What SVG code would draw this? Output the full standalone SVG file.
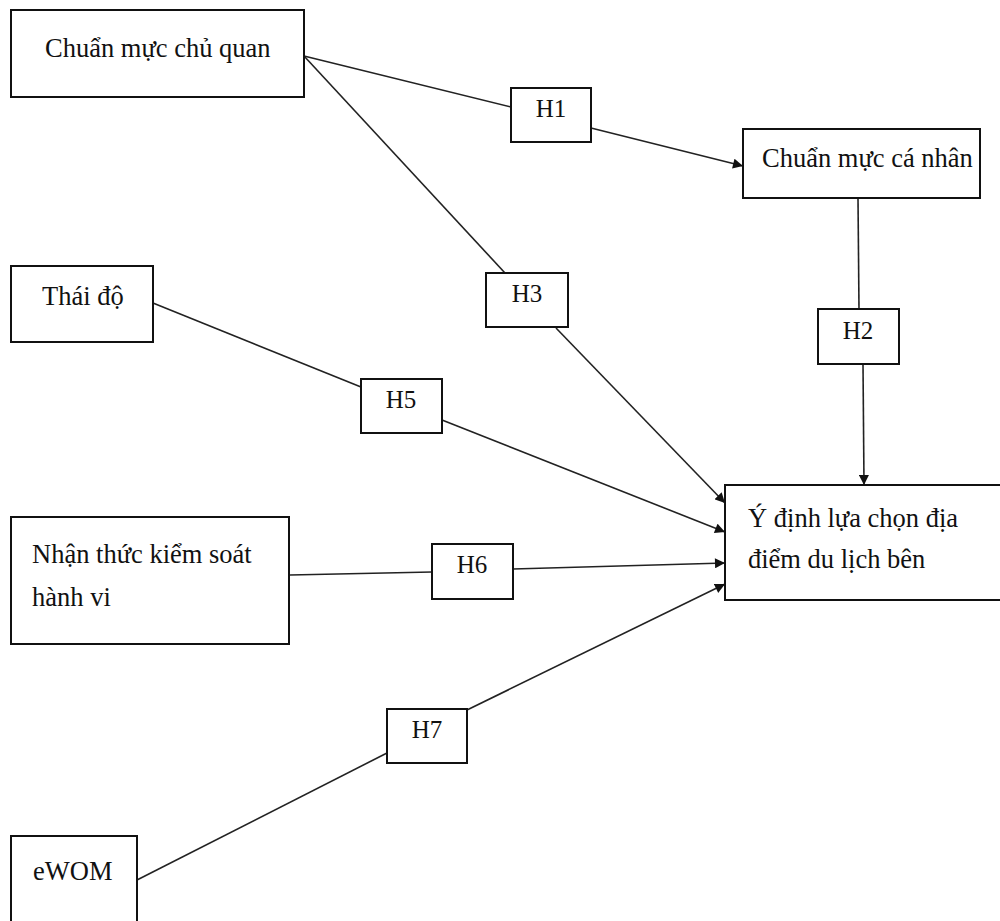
<svg xmlns="http://www.w3.org/2000/svg" width="1000" height="921" viewBox="0 0 1000 921">
<defs>
<marker id="arr" viewBox="0 0 10 10" refX="10" refY="5" markerWidth="11" markerHeight="10" markerUnits="userSpaceOnUse" orient="auto">
<path d="M0,0 L10,5 L0,10 z" fill="#111"/>
</marker>
<style>
.box{fill:#fff;stroke:#111;stroke-width:2}
.t{font-family:"Liberation Serif","Times New Roman",serif;font-size:26.5px;fill:#111}
.h{font-size:25px}
.c{text-anchor:middle}
.ln{stroke:#222;stroke-width:1.6;fill:none}
</style>
</defs>
<rect width="1000" height="921" fill="#fff"/>
<g id="connectors">
<line class="ln" x1="304" y1="56" x2="511" y2="107"/>
<line class="ln" x1="591" y1="128" x2="743" y2="166" marker-end="url(#arr)"/>
<line class="ln" x1="304" y1="56" x2="505" y2="273"/>
<line class="ln" x1="556" y1="328" x2="725" y2="503" marker-end="url(#arr)"/>
<line class="ln" x1="858" y1="198" x2="859" y2="309"/>
<line class="ln" x1="863" y1="364" x2="864" y2="485" marker-end="url(#arr)"/>
<line class="ln" x1="148" y1="301" x2="361" y2="387"/>
<line class="ln" x1="442" y1="420" x2="725" y2="532" marker-end="url(#arr)"/>
<line class="ln" x1="290" y1="575" x2="432" y2="572"/>
<line class="ln" x1="513" y1="569" x2="725" y2="563" marker-end="url(#arr)"/>
<line class="ln" x1="137" y1="880" x2="387" y2="753"/>
<line class="ln" x1="467" y1="710" x2="725" y2="584" marker-end="url(#arr)"/>
</g>
<g id="n-chuan-muc-chu-quan">
<rect class="box" x="11" y="10" width="293" height="87"/>
<text class="t" font-family="Liberation Serif, serif" x="45" y="57">Chuẩn mực chủ quan</text>
</g>
<g id="n-chuan-muc-ca-nhan">
<rect class="box" x="743" y="129" width="237" height="69"/>
<text class="t" font-family="Liberation Serif, serif" x="762" y="167">Chuẩn mực cá nhân</text>
</g>
<g id="n-thai-do">
<rect class="box" x="11" y="266" width="142" height="76"/>
<text class="t" font-family="Liberation Serif, serif" x="42" y="305">Thái độ</text>
</g>
<g id="n-nhan-thuc">
<rect class="box" x="11" y="517" width="278" height="127"/>
<text class="t" font-family="Liberation Serif, serif" x="32" y="563">Nhận thức kiểm  soát</text>
<text class="t" font-family="Liberation Serif, serif" x="32" y="606">hành vi</text>
</g>
<g id="n-ewom">
<rect class="box" x="11" y="836" width="126" height="100"/>
<text class="t" font-family="Liberation Serif, serif" x="33" y="880">eWOM</text>
</g>
<g id="n-y-dinh">
<rect class="box" x="725" y="485" width="285" height="115"/>
<text class="t" font-family="Liberation Serif, serif" x="748" y="527">Ý định lựa chọn địa</text>
<text class="t" font-family="Liberation Serif, serif" x="748" y="568">điểm  du lịch  bên</text>
</g>
<g id="h1">
<rect class="box" x="511" y="88" width="80" height="54"/>
<text class="t h c" font-family="Liberation Serif, serif" x="551" y="117">H1</text>
</g>
<g id="h2">
<rect class="box" x="818" y="309" width="81" height="55"/>
<text class="t h c" font-family="Liberation Serif, serif" x="858" y="339">H2</text>
</g>
<g id="h3">
<rect class="box" x="486" y="273" width="82" height="54"/>
<text class="t h c" font-family="Liberation Serif, serif" x="527" y="302">H3</text>
</g>
<g id="h5">
<rect class="box" x="361" y="379" width="81" height="54"/>
<text class="t h c" font-family="Liberation Serif, serif" x="401" y="408">H5</text>
</g>
<g id="h6">
<rect class="box" x="432" y="544" width="81" height="55"/>
<text class="t h c" font-family="Liberation Serif, serif" x="472" y="573">H6</text>
</g>
<g id="h7">
<rect class="box" x="387" y="709" width="80" height="54"/>
<text class="t h c" font-family="Liberation Serif, serif" x="427" y="738">H7</text>
</g>
</svg>
